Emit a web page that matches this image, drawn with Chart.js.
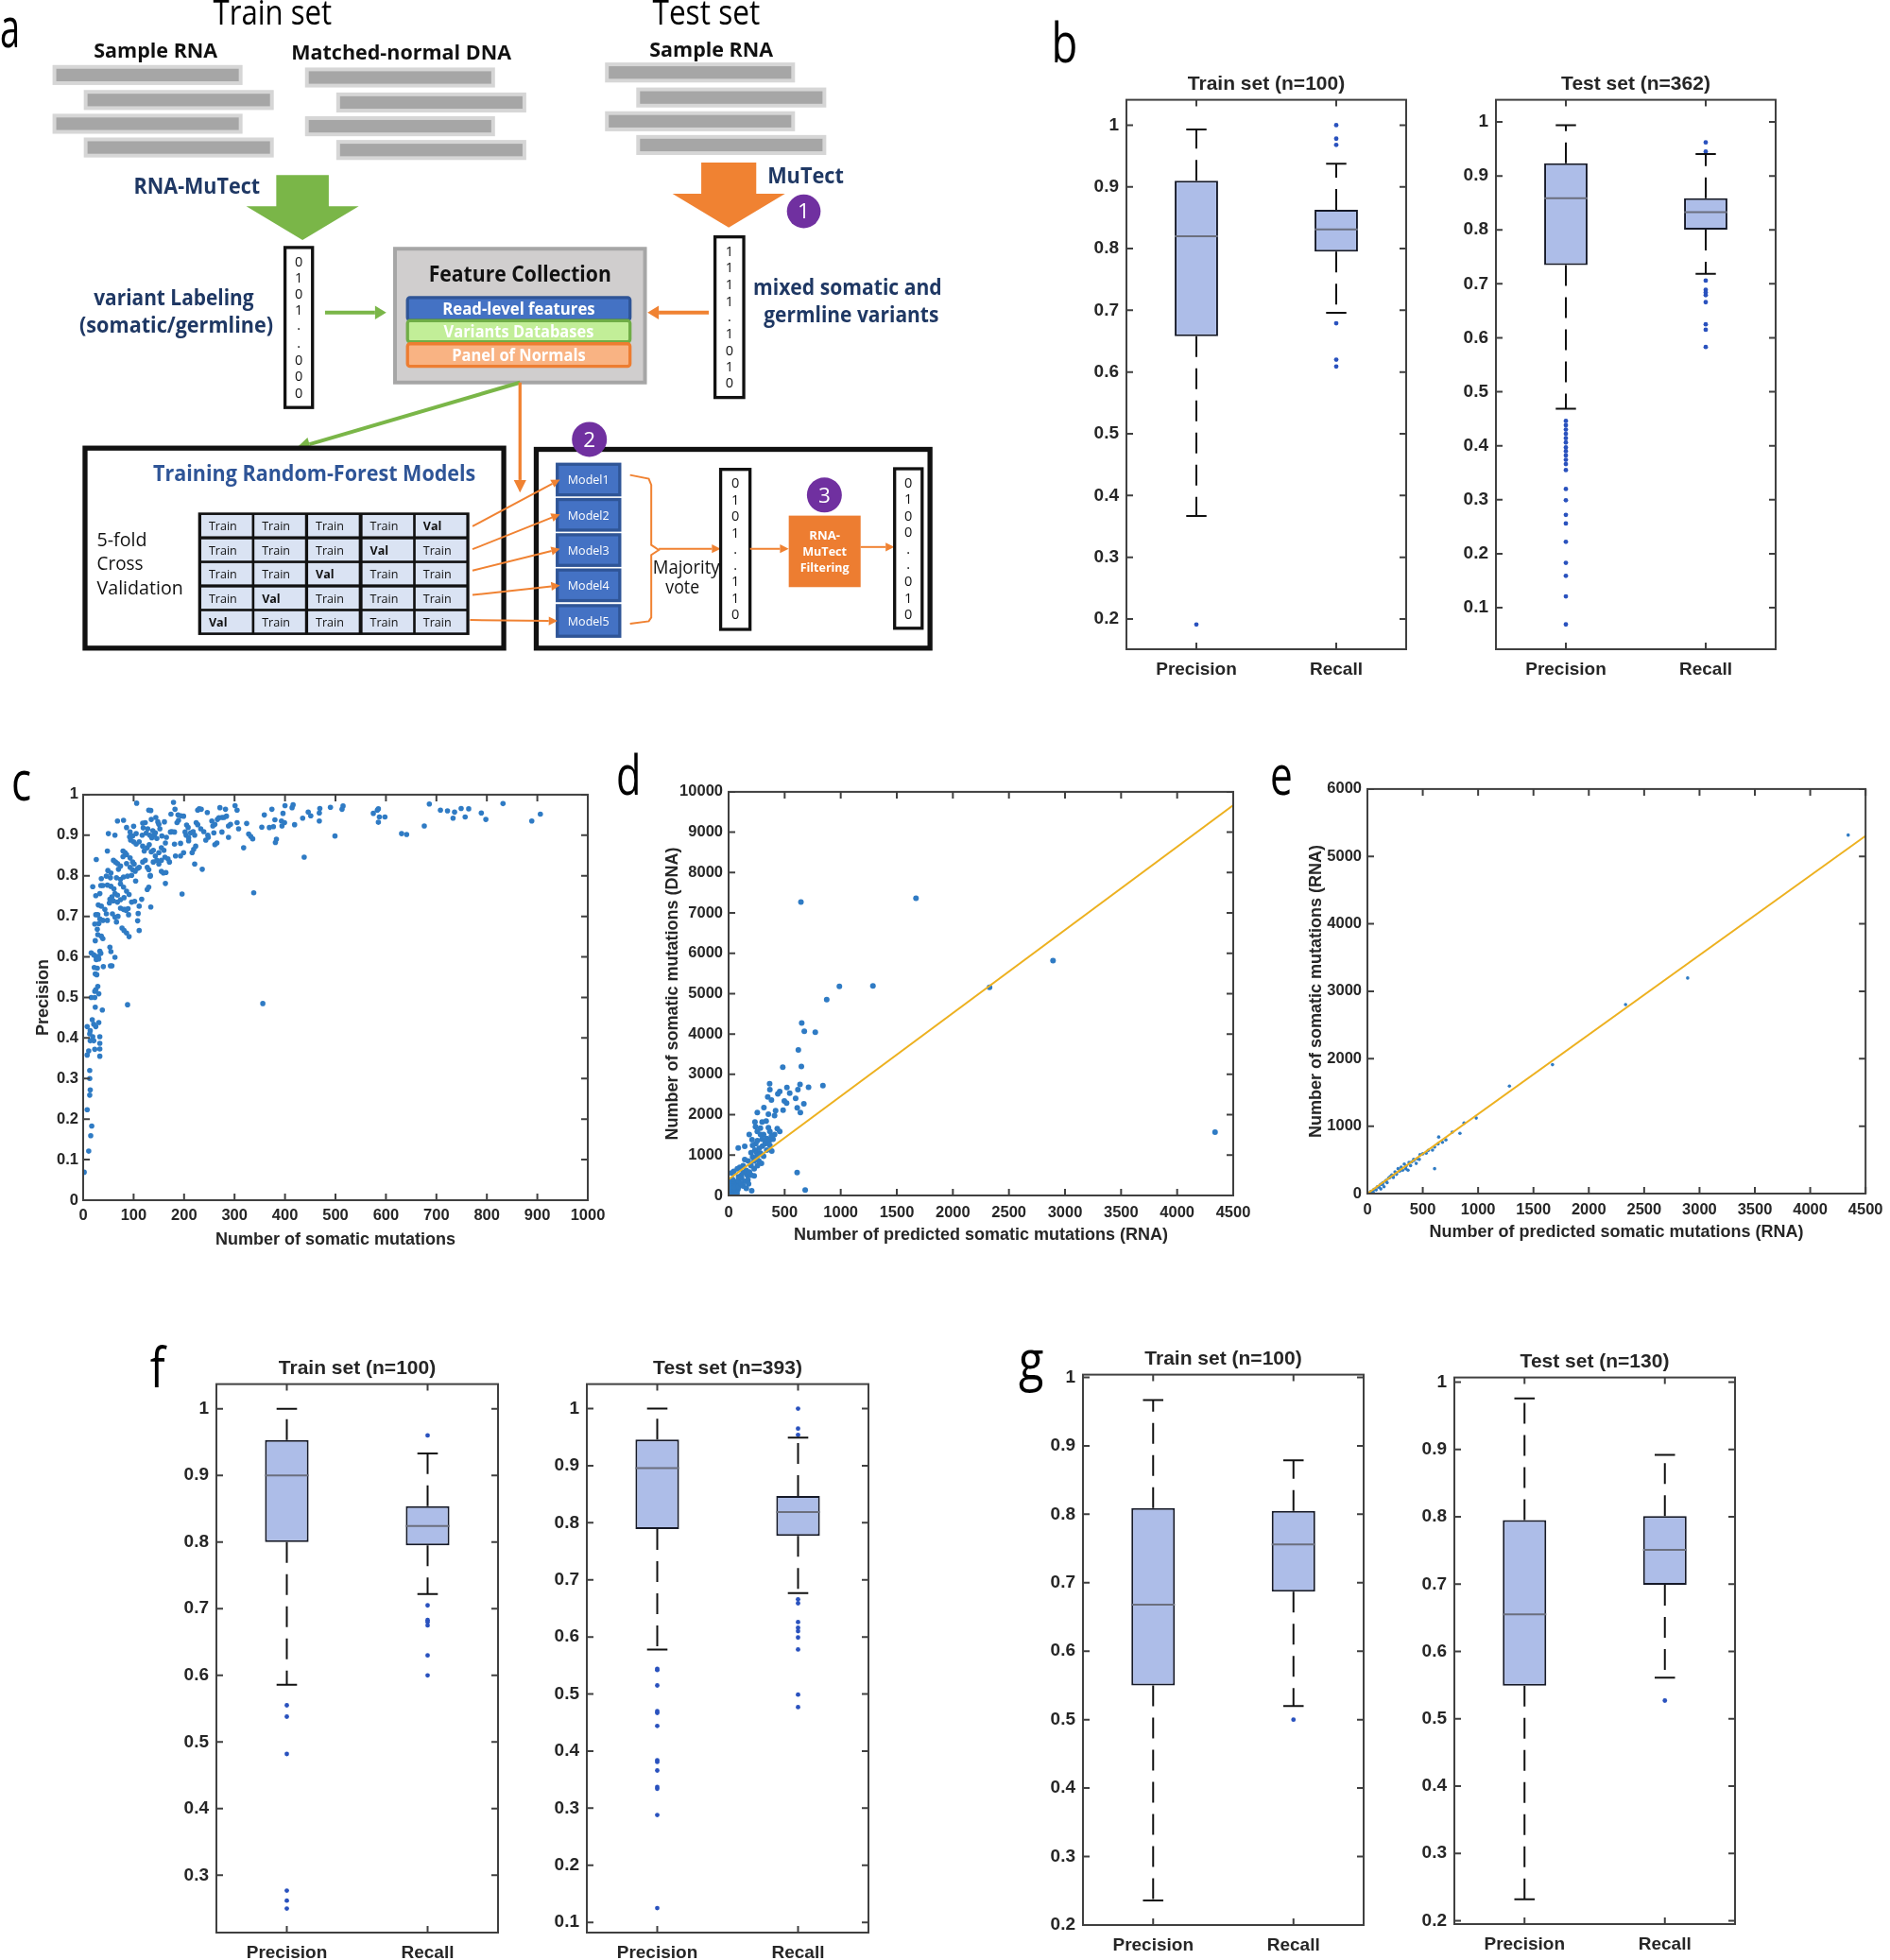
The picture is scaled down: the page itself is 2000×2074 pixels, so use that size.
<!DOCTYPE html>
<html>
<head>
<meta charset="utf-8">
<script src="https://cdn.jsdelivr.net/npm/chart.js@4.4.1/dist/chart.umd.min.js"></script>
<style>
html, body { margin: 0; padding: 0; background: #fff; }
#page { position: relative; width: 2000px; height: 2074px; overflow: hidden; }
#page canvas { position: absolute; }
#overlay { position: absolute; left: 0; top: 0; pointer-events: none; }
</style>
</head>
<body>
<div id="page">
<svg id="overlay" width="2000" height="2074" viewBox="0 0 1512 1568" font-family="'Open Sans', sans-serif">
  <g font-size="44" fill="#000" lengthAdjust="spacingAndGlyphs">
    <text x="0" y="38" textLength="16" lengthAdjust="spacingAndGlyphs">a</text>
    <text x="841" y="50" textLength="21" lengthAdjust="spacingAndGlyphs">b</text>
    <text x="9" y="640" textLength="16" lengthAdjust="spacingAndGlyphs">c</text>
    <text x="493" y="636" textLength="20" lengthAdjust="spacingAndGlyphs">d</text>
    <text x="1016" y="636" textLength="18" lengthAdjust="spacingAndGlyphs">e</text>
    <text x="120" y="1110" textLength="12" lengthAdjust="spacingAndGlyphs">f</text>
    <text x="815" y="1104" textLength="20" lengthAdjust="spacingAndGlyphs">g</text>
  </g>
  <g id="diag"></g>
  <g id="diagText">
    <text x="218" y="20" font-size="27" text-anchor="middle" textLength="95" lengthAdjust="spacingAndGlyphs">Train set</text>
    <text x="565" y="20" font-size="27" text-anchor="middle" textLength="86" lengthAdjust="spacingAndGlyphs">Test set</text>
    <g font-size="16" font-weight="bold" fill="#111" text-anchor="middle">
      <text x="124.5" y="46" textLength="99" lengthAdjust="spacingAndGlyphs">Sample RNA</text>
      <text x="321" y="48" textLength="176" lengthAdjust="spacingAndGlyphs">Matched-normal DNA</text>
      <text x="569" y="45" textLength="99" lengthAdjust="spacingAndGlyphs">Sample RNA</text>
    </g>
    <g font-size="17" font-weight="bold" fill="#1f3864">
      <text x="107" y="155" textLength="101" lengthAdjust="spacingAndGlyphs">RNA-MuTect</text>
      <text x="614" y="147" textLength="61" lengthAdjust="spacingAndGlyphs">MuTect</text>
      <text x="139" y="244" text-anchor="middle" textLength="128" lengthAdjust="spacingAndGlyphs">variant Labeling</text>
      <text x="141" y="266" text-anchor="middle" textLength="155" lengthAdjust="spacingAndGlyphs">(somatic/germline)</text>
      <text x="678" y="236" text-anchor="middle" textLength="151" lengthAdjust="spacingAndGlyphs">mixed somatic and</text>
      <text x="681" y="258" text-anchor="middle" textLength="140" lengthAdjust="spacingAndGlyphs">germline variants</text>
    </g>
  </g>
</svg>
</div>
<script>
// ---- data ----
// box plots: [lower whisker, q1, median, q3, upper whisker]
const boxLabels = ['Precision', 'Recall'];

const bTrainPrecision = [0.367, 0.658, 0.820, 0.910, 0.993];
const bTrainRecall = [0.696, 0.795, 0.831, 0.863, 0.9375];
const bTrainPrecisionOut = [0.191];
const bTrainRecallOut = [1.0, 0.978, 0.968, 0.679, 0.620, 0.609];
const bTestPrecision = [0.4686, 0.7347, 0.8585, 0.9236, 0.994];
const bTestRecall = [0.7186, 0.8006, 0.8328, 0.8585, 0.9405];
const bTestPrecisionOut = [0.446, 0.438, 0.430, 0.422, 0.414, 0.406, 0.397, 0.390, 0.382, 0.374, 0.366, 0.355, 0.320, 0.299, 0.272, 0.256, 0.222, 0.183, 0.159, 0.121, 0.069];
const bTestRecallOut = [0.962, 0.945, 0.706, 0.689, 0.684, 0.679, 0.666, 0.625, 0.615, 0.583];

const fTrainPrecision = [0.586, 0.800, 0.900, 0.953, 1.0];
const fTrainRecall = [0.722, 0.795, 0.824, 0.854, 0.933];
const fTrainPrecisionOut = [0.555, 0.538, 0.482, 0.277, 0.262, 0.250];
const fTrainRecallOut = [0.960, 0.705, 0.683, 0.680, 0.675, 0.630, 0.600];
const fTestPrecision = [0.578, 0.789, 0.896, 0.946, 1.0];
const fTestRecall = [0.677, 0.777, 0.819, 0.847, 0.949];
const fTestPrecisionOut = [0.544, 0.542, 0.515, 0.470, 0.467, 0.444, 0.384, 0.381, 0.366, 0.337, 0.334, 0.288, 0.125];
const fTestRecallOut = [1.0, 0.965, 0.954, 0.666, 0.659, 0.626, 0.616, 0.610, 0.599, 0.578, 0.499, 0.477];

const gTrainPrecision = [0.236, 0.550, 0.668, 0.809, 0.967];
const gTrainRecall = [0.520, 0.687, 0.756, 0.805, 0.879];
const gTrainPrecisionOut = [];
const gTrainRecallOut = [0.500];
const gTestPrecision = [0.232, 0.549, 0.655, 0.795, 0.976];
const gTestRecall = [0.561, 0.699, 0.751, 0.801, 0.892];
const gTestPrecisionOut = [];
const gTestRecallOut = [0.527];

// panel c: precision vs number of somatic mutations
const cMutations = [106,179,182,130,134,174,188,194,199,227,230,234,246,271,282,301,305,68,80,123,135,144,148,150,161,118,86,100,119,128,138,143,152,176,173,186,189,205,208,224,227,233,239,255,257,261,266,269,275,279,284,288,292,305,308,324,354,359,50,63,93,98,105,117,125,132,136,141,146,156,165,181,181,193,202,204,209,213,218,221,247,243,248,259,261,265,275,288,318,328,332,336,
  92,94,100,105,111,118,121,127,131,135,139,143,150,155,160,163,168,171,155,162,159,164,183,193,199,209,216,219,223,221,236,48,79,83,86,93,98,101,108,26,60,64,68,74,70,79,86,93,98,103,111,118,123,127,130,133,139,146,150,155,49,55,46,54,66,74,80,88,96,104,48,36,19,35,25,33,39,
  55,61,74,80,86,91,57,63,68,53,52,60,68,74,81,83,89,96,102,111,116,134,127,130,133,163,30,36,43,46,39,33,29,25,23,31,48,58,63,66,69,74,80,85,90,77,81,86,91,109,108,111,196,338,
  28,29,36,39,24,16,21,25,30,33,35,26,31,53,55,63,54,57,40,22,28,24,27,29,25,23,31,16,23,24,38,88,356,18,21,25,31,8,14,13,19,14,21,33,33,33,33,11,8,23,13,13,14,13,
  8,17,15,11,2,
  374,380,369,377,381,383,393,394,396,399,400,414,416,419,435,438,446,451,468,469,468,490,499,513,515,575,583,585,587,585,598,631,641,676,686,708,722,733,736,749,757,764,789,798,832,889,906];
const cPrecision = [.979,.981,.964,.962,.961,.952,.950,.948,.947,.962,.965,.964,.956,.968,.964,.973,.962,.935,.937,.931,.939,.944,.933,.927,.933,.930,.919,.922,.918,.916,.911,.906,.916,.909,.908,.931,.937,.925,.919,.931,.926,.916,.909,.935,.923,.927,.939,.943,.944,.944,.947,.923,.927,.931,.916,.929,.920,.950,.904,.900,.908,.898,.904,.900,.905,.900,.894,.900,.892,.898,.895,.908,.878,.880,.908,.900,.894,.906,.909,.900,.900,.888,.895,.906,.877,.881,.908,.895,.869,.903,.897,.891,
  .896,.888,.884,.878,.884,.873,.861,.869,.877,.859,.863,.849,.857,.869,.863,.881,.842,.834,.838,.846,.807,.808,.849,.849,.857,.886,.857,.865,.873,.829,.816,.861,.861,.857,.852,.844,.834,.829,.818,.840,.838,.834,.830,.824,.816,.847,.830,.821,.815,.811,.821,.834,.838,.821,.815,.799,.834,.838,.829,.811,.813,.807,.799,.795,.795,.791,.797,.799,.801,.787,.777,.793,.773,.776,.751,.756,.776,
  .774,.768,.780,.772,.762,.754,.748,.756,.752,.742,.733,.738,.735,.741,.746,.717,.719,.735,.737,.725,.742,.723,.766,.772,.801,.781,.728,.725,.717,.706,.690,.694,.704,.704,.681,.682,.690,.706,.698,.686,.700,.720,.717,.715,.704,.671,.665,.659,.650,.707,.689,.665,.755,.758,
  .668,.655,.651,.645,.640,.610,.605,.601,.601,.614,.609,.593,.595,.624,.613,.599,.578,.578,.576,.574,.572,.558,.556,.527,.519,.515,.509,.500,.500,.476,.469,.482,.485,.445,.434,.428,.438,.428,.418,.410,.403,.393,.393,.403,.387,.373,.355,.368,.358,.372,.320,.300,.272,.259,
  .223,.183,.159,.121,.069,
  .964,.938,.919,.921,.882,.890,.935,.923,.954,.931,.973,.968,.975,.926,.942,.846,.957,.948,.955,.966,.935,.969,.898,.964,.972,.954,.962,.965,.945,.932,.945,.904,.902,.923,.977,.962,.960,.942,.957,.966,.945,.965,.955,.939,.978,.935,.952];

// panel d: predicted (RNA) vs DNA somatic mutations
const dRna = [645,1671,2893,2327,1287,988,875,652,675,773,622,649,483,4338,611,683,841,713,
  366,368,520,456,439,545,598,637,618,671,349,382,497,517,612,640,486,419,410,315,256,355,335,235,240,434,456,368,312,285,340,363,332,299,257,184,209,302,273,234,200,385,144,86,214,251,293,175,144,130,100,78,46,26,200,228,167,116,89,60,32,18,66,46,206,
  103,144,172,200,228,257,270,186,158,130,116,89,74,46,32,55,83,18,4,13,38,130,158,178,312,285,340,368,326,251,265,228,242,214,396,410,382,355,284,256,299,
  10,25,40,60,75,20,50,90,110,35];
const dDna = [7270,7366,5821,5156,5192,5180,4852,4275,4067,4043,3603,3195,3179,1569,568,136,2722,2682,
  2767,2620,2674,2573,2519,2534,2403,2751,2620,2271,2441,2364,2340,2286,2170,2054,2116,2100,1976,2178,2054,2015,1845,1821,1705,1659,1589,1589,1511,1511,1411,1356,1318,1395,1356,1511,1380,1225,1170,1124,1062,1100,1217,1178,953,946,798,853,891,736,698,659,597,558,736,488,504,426,349,271,194,54,20,100,116,
  271,349,388,504,659,736,853,581,620,566,504,465,349,271,132,54,155,271,349,155,349,233,178,287,969,1046,1124,1240,1279,1062,1008,853,1279,1240,1395,1511,1473,1682,1666,1589,1821,
  40,80,30,150,60,20,200,220,300,400];
const dFitX = [0, 4500];
const dFitY = [400, 9670];

// panel e: predicted (RNA) vs RNA somatic mutations
const ePredicted = [4343,2893,2332,1672,1283,983,873,836,766,644,709,678,638,607,588,531,475,469,441,418,376,367,607,333,305,277,249,220,192,164,136,107,79,51,23,150,234,291,347,390,449,121,178,206,263,319,10,30,60,90,120,140,170,200,230,260,300,350,400,420,500,550];
const eObserved = [5317,3197,2803,1912,1594,1120,1046,894,912,839,797,760,737,691,645,599,576,507,447,507,461,346,369,438,392,369,323,276,230,184,138,92,55,23,5,101,240,332,369,415,516,69,161,253,286,346,8,30,62,100,135,160,195,235,265,300,350,410,470,490,590,640];
const eFitX = [0, 4500];
const eFitY = [0, 5305];

// ---- styling ----
const S = 2000 / 1512;          // reference px -> page px
const FONT = "'Liberation Sans', Arial, Helvetica, sans-serif";
const INK = '#262626';
const FRAME = '#404040';
const BOX_FILL = 'rgb(173,189,232)';
const BOX_EDGE = '#161a28';
const MEDIAN = '#6b6f7e';
const WHISKER = '#111111';
const OUTLIER = '#2a52be';
const POINT = '#2f7bc4';
const FIT = '#edb120';
const BOX_W = 0.31, CAP_W = 0.145;
const DASH = [22, 12];

Chart.defaults.font.family = FONT;

function addCanvas(id, left, top, w, h) {
  const c = document.createElement('canvas');
  c.id = id;
  c.width = Math.round(w);
  c.height = Math.round(h);
  c.style.left = Math.round(left) + 'px';
  c.style.top = Math.round(top) + 'px';
  document.getElementById('page').insertBefore(c, document.getElementById('overlay'));
  return c;
}

// MATLAB-like box with inward ticks on all four sides
const frame = {
  id: 'frame',
  afterDatasetsDraw(chart) {
    const {ctx, chartArea: a, scales: {x, y}} = chart;
    const len = 7;
    ctx.save();
    ctx.strokeStyle = FRAME;
    ctx.lineWidth = 2;
    ctx.beginPath();
    x.ticks.forEach(t => {
      const p = x.getPixelForValue(t.value);
      ctx.moveTo(p, a.bottom); ctx.lineTo(p, a.bottom - len);
      ctx.moveTo(p, a.top); ctx.lineTo(p, a.top + len);
    });
    y.ticks.forEach(t => {
      const p = y.getPixelForValue(t.value);
      ctx.moveTo(a.left, p); ctx.lineTo(a.left + len, p);
      ctx.moveTo(a.right, p); ctx.lineTo(a.right - len, p);
    });
    ctx.stroke();
    ctx.strokeRect(a.left, a.top, a.right - a.left, a.bottom - a.top);
    ctx.restore();
  }
};

const fmt = v => String(Math.round(v * 10) / 10);

function seg(p1, p2, color, dash) {
  return {
    type: 'line', data: [{x: p1[0], y: p1[1]}, {x: p2[0], y: p2[1]}],
    borderColor: color, borderWidth: 2, borderDash: dash || [], pointRadius: 0, fill: false
  };
}

function boxChart(id, plot, yMin, yMax, title, stats, outs) {
  const L = 52, R = 14, T = 30.6, B = 46;
  const cv = addCanvas(id, plot.l * S - L, plot.t * S - T,
    (plot.r - plot.l) * S + L + R, (plot.b - plot.t) * S + T + B);
  const ds = [{
    type: 'bar', order: 10,
    data: stats.map((s, i) => ({x: i + 1, y: [s[1], s[3]]})),
    backgroundColor: BOX_FILL, borderColor: BOX_EDGE, borderWidth: 2, borderSkipped: false,
    barPercentage: BOX_W, categoryPercentage: 1
  }];
  stats.forEach((s, i) => {
    const x = i + 1;
    ds.push(seg([x, s[3]], [x, s[4]], WHISKER, DASH));
    ds.push(seg([x, s[1]], [x, s[0]], WHISKER, DASH));
    ds.push(seg([x - CAP_W / 2, s[4]], [x + CAP_W / 2, s[4]], WHISKER));
    ds.push(seg([x - CAP_W / 2, s[0]], [x + CAP_W / 2, s[0]], WHISKER));
    ds.push(seg([x - BOX_W / 2, s[2]], [x + BOX_W / 2, s[2]], MEDIAN));
    ds.push({type: 'scatter', data: outs[i].map(v => ({x, y: v})),
      pointRadius: 2.4, pointBackgroundColor: OUTLIER, pointBorderWidth: 0});
  });
  new Chart(cv, {
    type: 'scatter',
    data: {datasets: ds},
    options: {
      responsive: false, animation: false,
      layout: {padding: {left: 0, top: 0, right: R, bottom: 0}},
      plugins: {
        legend: {display: false}, tooltip: {enabled: false},
        title: {display: true, text: title, fullSize: false, color: INK,
          font: {size: 21, weight: 'bold'}, padding: {top: 2, bottom: 3.4}}
      },
      scales: {
        x: {
          type: 'linear', min: 0.5, max: 2.5, offset: false,
          grid: {display: false, drawTicks: false}, border: {display: false},
          afterBuildTicks: ax => { ax.ticks = boxLabels.map((_, i) => ({value: i + 1})); },
          ticks: {callback: v => boxLabels[Math.round(v) - 1], color: INK, padding: 10,
            font: {size: 19, weight: 'bold'}, maxRotation: 0, autoSkip: false},
          afterFit: ax => { ax.height = B; }
        },
        y: {
          type: 'linear', min: yMin, max: yMax,
          grid: {display: false, drawTicks: false}, border: {display: false},
          ticks: {stepSize: 0.1, includeBounds: false, callback: fmt, color: INK, padding: 8,
            font: {size: 19, weight: 'bold'}},
          afterFit: ax => { ax.width = L; }
        }
      }
    },
    plugins: [frame]
  });
}

function axis(o, size) {
  return {
    type: 'linear', min: o.min, max: o.max, offset: false,
    grid: {display: false, drawTicks: false}, border: {display: false},
    ticks: {stepSize: o.step, includeBounds: false, callback: o.fmt || (v => String(v)),
      color: INK, padding: o.pad, font: {size: 16.5, weight: 'bold'}, maxRotation: 0, autoSkip: false},
    title: {display: true, text: o.title, color: INK, font: {size: 18, weight: 'bold'},
      padding: o.titlePad},
    afterFit: ax => { if (ax.isHorizontal()) ax.height = size; else ax.width = size; }
  };
}

function scatterChart(id, plot, pad, xo, yo, datasets) {
  const cv = addCanvas(id, plot.l * S - pad.L, plot.t * S - pad.T,
    (plot.r - plot.l) * S + pad.L + pad.R, (plot.b - plot.t) * S + pad.T + pad.B);
  new Chart(cv, {
    type: 'scatter',
    data: {datasets},
    options: {
      responsive: false, animation: false,
      layout: {padding: {left: 0, top: pad.T, right: pad.R, bottom: 0}},
      plugins: {legend: {display: false}, tooltip: {enabled: false}},
      scales: {x: axis(xo, pad.B), y: axis(yo, pad.L)}
    },
    plugins: [frame]
  });
}

const pts = (xs, ys) => xs.map((x, i) => ({x, y: ys[i]}));

// ---- panel b ----
boxChart('bTrain', {l: 901, t: 80, r: 1125, b: 519.5}, 0.151, 1.041, 'Train set (n=100)',
  [bTrainPrecision, bTrainRecall], [bTrainPrecisionOut, bTrainRecallOut]);
boxChart('bTest', {l: 1197, t: 80, r: 1421, b: 519.5}, 0.023, 1.041, 'Test set (n=362)',
  [bTestPrecision, bTestRecall], [bTestPrecisionOut, bTestRecallOut]);

// ---- panel c ----
scatterChart('cPlot', {l: 66.5, t: 635, r: 470, b: 960}, {L: 68, R: 40, T: 14, B: 62},
  {min: 0, max: 1000, step: 100, pad: 7, title: 'Number of somatic mutations', titlePad: {top: 0, bottom: 9}},
  {min: 0, max: 1, step: 0.1, pad: 5, fmt, title: 'Precision', titlePad: {top: 15, bottom: 0}},
  [{data: pts(cMutations, cPrecision), pointRadius: 2.8, pointBackgroundColor: POINT, pointBorderWidth: 0}]);

// ---- panel d ----
scatterChart('dPlot', {l: 583, t: 632, r: 987, b: 956}, {L: 91, R: 30, T: 14, B: 62},
  {min: 0, max: 4500, step: 500, pad: 9, title: 'Number of predicted somatic mutations (RNA)', titlePad: {top: 0, bottom: 9}},
  {min: 0, max: 10000, step: 1000, pad: 6, title: 'Number of somatic mutations (DNA)', titlePad: {top: 21, bottom: 0}},
  [{type: 'line', data: pts(dFitX, dFitY), borderColor: FIT, borderWidth: 2, pointRadius: 0},
   {data: pts(dRna, dDna), pointRadius: 3, pointBackgroundColor: POINT, pointBorderWidth: 0}]);

// ---- panel e ----
scatterChart('ePlot', {l: 1094, t: 630, r: 1498, b: 955}, {L: 87, R: 18.5, T: 14, B: 62},
  {min: 0, max: 4500, step: 500, pad: 7.5, title: 'Number of predicted somatic mutations (RNA)', titlePad: {top: 0, bottom: 10}},
  {min: 0, max: 6000, step: 1000, pad: 6, title: 'Number of somatic mutations (RNA)', titlePad: {top: 22, bottom: 0}},
  [{type: 'line', data: pts(eFitX, eFitY), borderColor: FIT, borderWidth: 2, pointRadius: 0},
   {data: pts(ePredicted, eObserved), pointRadius: 1.8, pointBackgroundColor: POINT, pointBorderWidth: 0}]);

// ---- panel f ----
boxChart('fTrain', {l: 173, t: 1107, r: 398.5, b: 1546}, 0.214, 1.037, 'Train set (n=100)',
  [fTrainPrecision, fTrainRecall], [fTrainPrecisionOut, fTrainRecallOut]);
boxChart('fTest', {l: 469.5, t: 1107, r: 695, b: 1546}, 0.082, 1.043, 'Test set (n=393)',
  [fTestPrecision, fTestRecall], [fTestPrecisionOut, fTestRecallOut]);

// ---- panel g ----
boxChart('gTrain', {l: 866.7, t: 1099.5, r: 1091, b: 1540}, 0.2, 1.004, 'Train set (n=100)',
  [gTrainPrecision, gTrainRecall], [gTrainPrecisionOut, gTrainRecallOut]);
boxChart('gTest', {l: 1163.5, t: 1102, r: 1388, b: 1539.6}, 0.195, 1.007, 'Test set (n=130)',
  [gTestPrecision, gTestRecall], [gTestPrecisionOut, gTestRecallOut]);

// ---- panel a: workflow diagram ----
const svgNS = 'http://www.w3.org/2000/svg';
const diag = document.getElementById('diag');
const GREEN = '#7ab648', ORANGE = '#f08232', NAVY = '#1f3864', PURPLE = '#7030a0';
function el(tag, attrs, text) {
  const e = document.createElementNS(svgNS, tag);
  for (const k in attrs) e.setAttribute(k, attrs[k]);
  if (text !== undefined) e.textContent = text;
  diag.appendChild(e);
  return e;
}
function label(x, y, str, size, opts) {
  const a = Object.assign({x, y, 'font-size': size, 'text-anchor': 'middle', fill: '#111'}, opts || {});
  if (a.textLength) a.lengthAdjust = 'spacingAndGlyphs';
  return el('text', a, str);
}
function arrow(x1, y1, x2, y2, color, w, hl, hw) {
  const dx = x2 - x1, dy = y2 - y1, d = Math.hypot(dx, dy), ux = dx / d, uy = dy / d;
  const bx = x2 - ux * hl, by = y2 - uy * hl;
  el('line', {x1, y1, x2: bx, y2: by, stroke: color, 'stroke-width': w});
  el('polygon', {points: `${x2},${y2} ${bx - uy * hw},${by + ux * hw} ${bx + uy * hw},${by - ux * hw}`, fill: color});
}
function badge(cx, cy, r, n) {
  el('circle', {cx, cy, r, fill: PURPLE});
  label(cx, cy + 6, n, 17, {fill: '#fff'});
}
function vector(x, y, w, h, items) {
  el('rect', {x, y, width: w, height: h, fill: '#fff', stroke: '#111', 'stroke-width': 2.5});
  items.forEach(([ch, by]) => label(x + w / 2, by, ch, 11));
}

// reads
[[42, 52], [244, 54], [484, 50]].forEach(([gx, gy]) =>
  [[0, 0], [25, 20], [0, 39], [25, 58]].forEach(([dx, dy]) => {
    el('rect', {x: gx + dx, y: gy + dy, width: 152, height: 16, fill: '#d6d6d6'});
    el('rect', {x: gx + dx + 3, y: gy + dy + 3, width: 146, height: 10, fill: '#a6a6a6'});
  }));

// big arrows
el('polygon', {points: '221,140 263,140 263,165 287,165 242,192 197,165 221,165', fill: GREEN});
el('polygon', {points: '561,130 605,130 605,155 628,155 583,182 538,155 561,155', fill: ORANGE});
badge(643, 169, 13.5, '1');

// label vectors
vector(228, 198, 22, 128, [['0', 213], ['1', 226], ['0', 239], ['1', 252], ['.', 264], ['.', 278], ['0', 292], ['0', 305], ['0', 318]]);
vector(572, 189.5, 23, 128.5, [['1', 205], ['1', 218], ['1', 231], ['1', 245], ['.', 257], ['1', 271], ['0', 284], ['1', 297], ['0', 310]]);

// feature collection
el('rect', {x: 316, y: 199, width: 200, height: 107, fill: '#d0cece', stroke: '#a6a6a6', 'stroke-width': 3});
label(416, 225, 'Feature Collection', 17, {'font-weight': 'bold', textLength: 146});
el('rect', {x: 326, y: 238, width: 178, height: 18, rx: 2, fill: '#4472c4', stroke: '#2f5597', 'stroke-width': 2.5});
el('rect', {x: 326, y: 256.5, width: 178, height: 17, rx: 2, fill: '#c2ee98', stroke: '#70ad47', 'stroke-width': 2.5});
el('rect', {x: 326, y: 275, width: 178, height: 18, rx: 2, fill: '#f9b383', stroke: '#ed7d31', 'stroke-width': 2.5});
label(415, 252, 'Read-level features', 13, {fill: '#fff', 'font-weight': 'bold', textLength: 122});
label(415, 270, 'Variants Databases', 13, {fill: '#fff', 'font-weight': 'bold', textLength: 120});
label(415, 288.5, 'Panel of Normals', 13, {fill: '#fff', 'font-weight': 'bold', textLength: 107});
arrow(260, 250, 309, 250, GREEN, 3, 9, 5.5);
arrow(567, 250, 518, 250, ORANGE, 3, 9, 5.5);

// links down
arrow(416, 306, 237, 358.5, GREEN, 3, 11, 5.5);
arrow(416, 306, 416, 394, ORANGE, 2.5, 10, 5);

// training box
el('rect', {x: 68, y: 358.5, width: 335, height: 160, fill: '#fff', stroke: '#111', 'stroke-width': 4});
label(251.5, 385, 'Training Random-Forest Models', 17, {fill: '#2f5597', 'font-weight': 'bold', textLength: 258});
label(77.5, 437, '5-fold', 15, {'text-anchor': 'start', textLength: 40});
label(77.5, 456, 'Cross', 15, {'text-anchor': 'start', textLength: 37});
label(77.5, 475.5, 'Validation', 15, {'text-anchor': 'start', textLength: 69});
el('rect', {x: 158.5, y: 410, width: 217, height: 98, fill: '#111'});
const cvCols = [161, 203.5, 246.5, 290, 332.5];
const cvRows = [412, 431.5, 450.5, 470, 489];
const cvValCol = [4, 3, 2, 1, 0];
cvRows.forEach((ry, r) => cvCols.forEach((cx, c) => {
  el('rect', {x: cx, y: ry, width: 40.5, height: 17, fill: '#dae3f3'});
  const isVal = c === cvValCol[r];
  label(cx + 6, ry + 12.5, isVal ? 'Val' : 'Train', 9.5,
    {'text-anchor': 'start', 'font-weight': isVal ? 'bold' : 'normal'});
}));

// model box
el('rect', {x: 429, y: 359.5, width: 315, height: 159, fill: '#fff', stroke: '#111', 'stroke-width': 4});
const modelRows = [371.4, 399.6, 427.8, 456, 484.5];
modelRows.forEach((my, i) => {
  el('rect', {x: 445.8, y: my, width: 50, height: 24.5, fill: '#4472c4', stroke: '#2f5597', 'stroke-width': 2.5});
  label(470.8, my + 16, 'Model' + (i + 1), 9.5, {fill: '#fff'});
});
badge(471.5, 351.5, 14, '2');
[[378, 421, 448, 383.6], [378, 439.4, 448, 411.4], [378, 456.5, 448, 439], [378, 476, 448, 468.3], [376, 496, 446, 496.8]]
  .forEach(a => arrow(a[0], a[1], a[2], a[3], ORANGE, 1.5, 7, 3.5));
el('path', {d: 'M504,380 L519,383 L521,388 L521,436 L527,440 L521,444 L521,494 L519,497 L504,499',
  stroke: ORANGE, 'stroke-width': 1.5, fill: 'none'});
arrow(527, 439, 576.5, 439, ORANGE, 1.5, 7, 3.5);
label(549, 458.6, 'Majority', 14.5, {textLength: 53.6});
label(546, 475, 'vote', 14.5, {textLength: 27});
vector(576.5, 375.5, 23.5, 128, [['0', 390], ['1', 403.5], ['0', 416.5], ['1', 430], ['.', 443], ['.', 456], ['1', 469], ['1', 482.5], ['0', 495.5]]);
arrow(600, 439, 631, 439, ORANGE, 1.5, 7, 3.5);
el('rect', {x: 631, y: 412.5, width: 57.5, height: 57.2, fill: '#ed7d31'});
label(659.7, 432, 'RNA-', 10, {fill: '#fff', 'font-weight': 'bold', textLength: 24.7});
label(659.7, 444.7, 'MuTect', 10, {fill: '#fff', 'font-weight': 'bold', textLength: 35.4});
label(659.7, 457.3, 'Filtering', 10, {fill: '#fff', 'font-weight': 'bold', textLength: 39.3});
badge(659.5, 396, 14, '3');
arrow(688.5, 437.6, 715.5, 437.6, ORANGE, 1.5, 7, 3.5);
vector(715.7, 375, 22, 127.6, [['0', 390], ['1', 403], ['0', 416.5], ['0', 429.5], ['.', 443], ['.', 455.5], ['0', 469], ['1', 482], ['0', 495]]);
</script>
</body>
</html>
